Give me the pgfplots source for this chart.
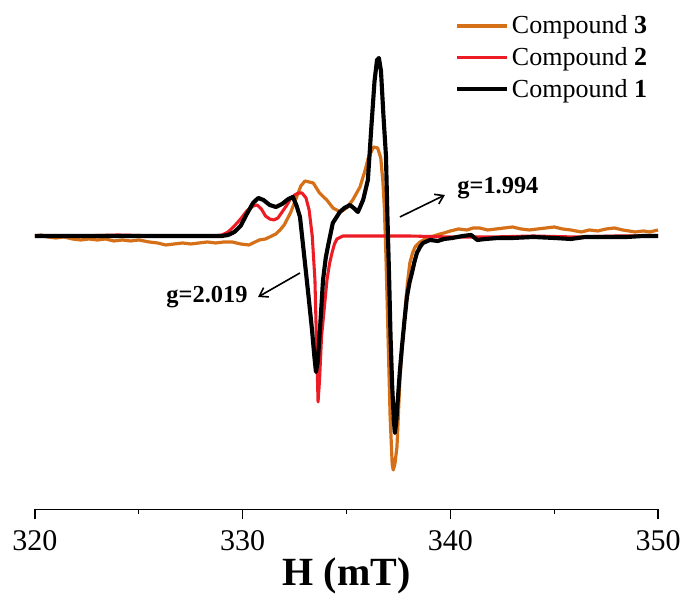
\documentclass[border=0pt]{standalone}
\usepackage{fontspec}
\setmainfont{Liberation Serif}
\usepackage{pgfplots}
\pgfplotsset{compat=1.18}
\usetikzlibrary{arrows.meta}
\definecolor{corange}{RGB}{214,112,24}
\definecolor{cred}{RGB}{237,28,36}
\begin{document}
\begin{tikzpicture}
\begin{axis}[
  at={(0,0)}, anchor=south west,
  scale only axis, width=467.25pt, height=374.6pt,
  xmin=320, xmax=350, ymin=-273.5, ymax=226,
  axis x line*=bottom, axis y line=none,
  xtick={320,330,340,350}, minor xtick={325,335,345},
  tick align=outside, major tick length=7.5pt, minor tick length=3.75pt,
  tick style={black, line width=0.8pt},
  axis line style={line width=0.8pt},
  /pgf/number format/assume math mode=true,
  xticklabel style={font=\fontsize{22.5}{27}\selectfont, yshift=-4.5pt},
  xlabel={\textbf{H (mT)}},
  xlabel style={font=\fontsize{30}{36}\selectfont, yshift=1pt},
  clip=false,
  legend cell align=left,
  legend image code/.code={\draw[#1] (0pt,0pt) -- (37.5pt,0pt);},
  legend style={draw=none, fill=none, inner sep=0pt,
    at={(axis cs:340.22,223)}, anchor=north west,
    font=\fontsize{19.5}{23}\selectfont, row sep=4.75pt,
    nodes={inner sep=2pt}},
]
\addplot[corange, line width=2.4pt, line join=round] coordinates {
(320.0,0) (320.3,1) (320.6,-1) (321.0,-2) (321.4,-1) (321.8,-3) (322.2,-4) (322.6,-3)
(323.0,-4) (323.4,-3) (323.8,-5) (324.2,-4) (324.6,-5) (325.0,-4) (325.5,-6) (325.9,-7)
(326.3,-9) (326.7,-8) (327.1,-7) (327.5,-8) (327.9,-7) (328.3,-6) (328.7,-7) (329.1,-6)
(329.5,-6) (329.9,-8) (330.3,-9) (330.6,-6) (330.8,-4) (331.1,-3) (331.3,-1) (331.6,2)
(331.8,6) (332.0,11) (332.3,23) (332.6,39) (332.8,50) (333.0,55) (333.2,54) (333.4,53)
(333.7,43) (334.05,36) (334.35,28) (334.7,24) (335.0,28) (335.3,36) (335.65,49) (335.9,66)
(336.05,78) (336.3,89) (336.5,88) (336.65,78) (336.75,55) (336.82,30) (336.9,-20)
(337.0,-100) (337.1,-180) (337.2,-228) (337.25,-234) (337.33,-228) (337.43,-211)
(337.57,-144) (337.7,-105) (337.81,-77) (337.93,-48) (338.05,-27) (338.18,-17) (338.3,-11)
(338.54,-6) (338.87,-2) (339.2,0) (339.5,2) (339.7,3) (340.0,5) (340.4,7) (340.8,6)
(341.1,8) (341.4,8) (341.8,6) (342.2,7) (342.6,8) (343.0,9) (343.4,7) (343.8,6) (344.2,7)
(344.6,8) (345.0,9) (345.4,7) (345.8,6) (346.3,4) (346.7,6) (347.1,5) (347.5,7) (347.9,8)
(348.3,6) (348.6,5) (348.9,4) (349.3,5) (349.6,4) (350.0,6)
};
\addlegendentry{Compound \textbf{3}}
\addplot[cred, line width=2.3pt, line join=round] coordinates {
(320.0,0) (322.0,0) (324.0,1) (326.0,0) (328.0,0) (328.6,0) (329.0,1) (329.3,4) (329.6,10)
(329.9,17) (330.2,25) (330.5,30) (330.7,31) (330.9,27) (331.1,20) (331.3,17) (331.5,16)
(331.7,18) (331.9,24) (332.1,30) (332.3,37) (332.5,41) (332.7,43) (332.86,43) (333.05,38)
(333.2,26) (333.35,0) (333.48,-44) (333.56,-110) (333.63,-166) (333.7,-145) (333.8,-100)
(333.94,-70) (334.06,-44) (334.18,-28) (334.3,-17) (334.42,-8) (334.54,-3) (334.83,0)
(336.0,0) (338.0,0) (340.0,-1) (342.0,-1) (344.0,0) (346.0,-1) (348.0,0) (350.0,0)
};
\addlegendentry{Compound \textbf{2}}
\addplot[black, line width=3.1pt, line join=round] coordinates {
(320.0,0) (322.0,0) (324.0,0) (326.0,0) (328.0,0) (329.0,0) (329.3,1) (329.6,4) (329.9,10)
(330.2,22) (330.5,33) (330.75,38) (331.0,36) (331.3,31) (331.6,29) (331.9,32) (332.2,37)
(332.42,39) (332.6,30) (332.76,19) (333.0,-27) (333.17,-60) (333.34,-94) (333.45,-120)
(333.53,-136) (333.62,-125) (333.72,-94) (333.87,-44) (334.0,-22) (334.1,-11) (334.34,13)
(334.68,24) (334.9,28) (335.17,31) (335.4,27) (335.55,24) (335.8,36) (336.03,56) (336.2,110)
(336.35,155) (336.47,176) (336.56,178) (336.66,165) (336.78,120) (336.9,80) (336.97,20)
(337.05,-40) (337.12,-100) (337.2,-150) (337.28,-185) (337.33,-197) (337.4,-185)
(337.48,-161) (337.57,-135) (337.67,-111) (337.79,-85) (337.91,-61) (338.03,-47)
(338.15,-37) (338.27,-26) (338.39,-17) (338.54,-11) (338.68,-7) (339.02,-4) (339.4,-5)
(339.7,-3) (340.1,-2) (340.6,0) (341.0,1) (341.3,-4) (341.7,-3) (342.3,-2) (343.0,-2)
(344.0,-1) (345.0,-2) (345.8,-3) (346.5,-1) (347.5,-1) (348.5,-1) (349.3,0) (350.0,0)
};
\addlegendentry{Compound \textbf{1}}
\node[font=\fontsize{18.3}{22}\selectfont\bfseries] at (axis cs:342.29,48) {g=1.994};
\node[font=\fontsize{18.3}{22}\selectfont\bfseries] at (axis cs:328.28,-61) {g=2.019};
\draw[-{Straight Barb[length=6pt,width=8pt]}, line width=1.2pt] (axis cs:337.57,19) -- (axis cs:339.74,41);
\draw[-{Straight Barb[length=6pt,width=8pt]}, line width=1.2pt] (axis cs:332.76,-37) -- (axis cs:330.74,-61);
\end{axis}
\pgfresetboundingbox
\path[use as bounding box] (-26.25pt,-64.1pt) rectangle (486.75pt,382.1pt);
\end{tikzpicture}
\end{document}
